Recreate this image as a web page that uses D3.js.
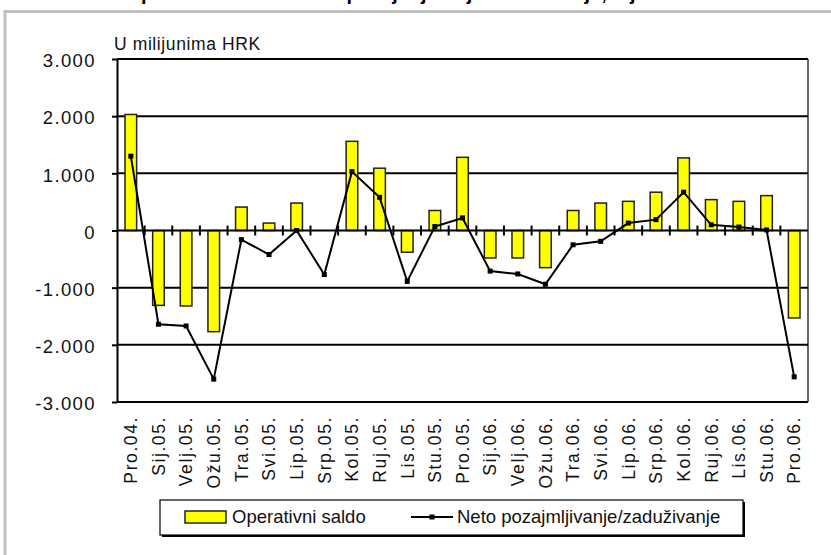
<!DOCTYPE html>
<html>
<head>
<meta charset="utf-8">
<script src="https://cdn.jsdelivr.net/npm/d3@7"></script>
<style>
  body { margin: 0; background: #fff; }
  svg { display: block; font-family: "Liberation Sans", Arial, sans-serif; }
</style>
</head>
<body>
<svg id="chart"></svg>
<script>
// monthly data, millions of HRK
const months = ["Pro.04.", "Sij.05.", "Velj.05.", "Ožu.05.", "Tra.05.", "Svi.05.", "Lip.05.", "Srp.05.",
    "Kol.05.", "Ruj.05.", "Lis.05.", "Stu.05.", "Pro.05.", "Sij.06.", "Velj.06.", "Ožu.06.", "Tra.06.",
    "Svi.06.", "Lip.06.", "Srp.06.", "Kol.06.", "Ruj.06.", "Lis.06.", "Stu.06.", "Pro.06."];

const operativniSaldo = [2030, -1310, -1320, -1770, 410, 130, 480, 0, 1560, 1090, -380, 350, 1280,
    -480, -480, -650, 350, 480, 510, 670, 1270, 540, 510, 610, -1530];

const netoPozajmljivanje = [1300, -1640, -1670, -2600, -160, -420, 0, -770, 1030, 580, -890, 70, 220,
    -710, -760, -940, -250, -190, 130, 190, 670, 100, 60, 10, -2560];

const yTicks = [-3000, -2000, -1000, 0, 1000, 2000, 3000];
const unitLabel = "U milijunima HRK";
const titleText = "Operativni saldo i neto pozajmljivanje/zaduživanje, mjesečno";
const legendLabels = ["Operativni saldo", "Neto pozajmljivanje/zaduživanje"];

const width = 831;
const height = 555;
const plot = { left: 117, right: 808, top: 59, bottom: 402 };

const SVG = d3.select("#chart").attr("width", width).attr("height", height);

const hr = d3.formatLocale({ decimal: ",", thousands: ".", grouping: [3], currency: ["", ""], minus: "-" });
const fmt = hr.format(",.0f");

const x = d3.scaleBand()
    .domain(months)
    .range([plot.left, plot.right])
    .paddingInner(0.58)
    .paddingOuter(0.29);

const y = d3.scaleLinear()
    .domain([-3000, 3000])
    .range([plot.bottom, plot.top]);

const step = x.step();
const centre = m => x(m) + x.bandwidth() / 2;

// outer frame (cut from a bigger page)
SVG.append("text")
    .attr("x", 415)
    .attr("y", 0)
    .attr("text-anchor", "middle")
    .attr("font-size", 20)
    .attr("font-weight", "bold")
    .text(titleText);

SVG.append("rect").attr("x", 0).attr("y", 0).attr("width", width).attr("height", 10.5).attr("fill", "none");
SVG.append("line").attr("x1", 4).attr("x2", width).attr("y1", 11.5).attr("y2", 11.5)
    .attr("stroke", "#c0c0c0").attr("stroke-width", 3);
SVG.append("line").attr("x1", 5).attr("x2", 5).attr("y1", 10).attr("y2", height)
    .attr("stroke", "#c0c0c0").attr("stroke-width", 3);

// right border of plot area
SVG.append("line")
    .attr("x1", plot.right).attr("x2", plot.right)
    .attr("y1", plot.top).attr("y2", plot.bottom)
    .attr("stroke", "#333").attr("stroke-width", 1.5);

// gridlines
SVG.append("g")
    .selectAll("line")
    .data(yTicks.filter(d => d !== 0))
    .enter()
    .append("line")
    .attr("x1", plot.left)
    .attr("x2", plot.right)
    .attr("y1", d => y(d))
    .attr("y2", d => y(d))
    .attr("stroke", "#000")
    .attr("stroke-width", 2);

// y axis
const yAxis = SVG.append("g")
    .attr("transform", `translate(${plot.left},0)`)
    .call(d3.axisLeft(y).tickValues(yTicks).tickSize(5).tickSizeOuter(0).tickPadding(16).tickFormat(fmt));

yAxis.select(".domain").attr("stroke", "#000").attr("stroke-width", 2);
yAxis.selectAll(".tick line").attr("stroke", "#000").attr("stroke-width", 2);
yAxis.selectAll(".tick text")
    .attr("font-family", "'Liberation Sans', Arial, sans-serif")
    .attr("font-size", 18.5)
    .attr("letter-spacing", 1.4)
    .attr("fill", "#111")
    .attr("dy", "0.42em");

SVG.append("text")
    .attr("x", 114)
    .attr("y", 50)
    .attr("font-size", 17.5)
    .attr("letter-spacing", 0.6)
    .attr("fill", "#111")
    .text(unitLabel);

// bars
SVG.append("g")
    .selectAll("rect")
    .data(months.map((m, i) => ({ m, v: operativniSaldo[i] })))
    .enter()
    .append("rect")
    .attr("x", d => x(d.m))
    .attr("width", x.bandwidth())
    .attr("y", d => y(Math.max(0, d.v)))
    .attr("height", d => Math.abs(y(d.v) - y(0)))
    .attr("fill", "#ffff00")
    .attr("stroke", "#222")
    .attr("stroke-width", 1.5);

// zero axis with crossing ticks at category edges
SVG.append("line")
    .attr("x1", plot.left).attr("x2", plot.right)
    .attr("y1", y(0)).attr("y2", y(0))
    .attr("stroke", "#000").attr("stroke-width", 2);

SVG.append("g")
    .selectAll("line")
    .data(months.slice(1))
    .enter()
    .append("line")
    .attr("x1", d => x(d) - step * x.paddingOuter())
    .attr("x2", d => x(d) - step * x.paddingOuter())
    .attr("y1", y(0) - 5)
    .attr("y2", y(0) + 5)
    .attr("stroke", "#000")
    .attr("stroke-width", 2);

// line series
const lineData = months.map((m, i) => ({ m, v: netoPozajmljivanje[i] }));

SVG.append("path")
    .datum(lineData)
    .attr("fill", "none")
    .attr("stroke", "#000")
    .attr("stroke-width", 2)
    .attr("d", d3.line().x(d => centre(d.m)).y(d => y(d.v)));

SVG.append("g")
    .selectAll("rect")
    .data(lineData)
    .enter()
    .append("rect")
    .attr("x", d => centre(d.m) - 2.5)
    .attr("y", d => y(d.v) - 2.5)
    .attr("width", 5)
    .attr("height", 5)
    .attr("fill", "#000");

// category labels
SVG.append("g")
    .selectAll("text")
    .data(months)
    .enter()
    .append("text")
    .attr("transform", d => `translate(${centre(d)},416) rotate(-90)`)
    .attr("text-anchor", "end")
    .attr("dy", "0.36em")
    .attr("font-size", 17.5)
    .attr("letter-spacing", 1.6)
    .attr("fill", "#111")
    .text(d => d);

// legend
const legend = SVG.append("g");

legend.append("rect")
    .attr("x", 162).attr("y", 502)
    .attr("width", 583).attr("height", 35)
    .attr("fill", "#000");
legend.append("rect")
    .attr("x", 160).attr("y", 500)
    .attr("width", 583).attr("height", 35)
    .attr("fill", "#fff")
    .attr("stroke", "#000")
    .attr("stroke-width", 1.2);

legend.append("rect")
    .attr("x", 185).attr("y", 511)
    .attr("width", 41).attr("height", 12)
    .attr("fill", "#ffff00")
    .attr("stroke", "#222")
    .attr("stroke-width", 1.5);

legend.append("text")
    .attr("x", 232).attr("y", 523)
    .attr("font-size", 18.5)
    .attr("fill", "#111")
    .text(legendLabels[0]);

legend.append("line")
    .attr("x1", 411).attr("x2", 453)
    .attr("y1", 517).attr("y2", 517)
    .attr("stroke", "#000").attr("stroke-width", 2);
legend.append("rect")
    .attr("x", 429.5).attr("y", 514.5)
    .attr("width", 5).attr("height", 5)
    .attr("fill", "#000");

legend.append("text")
    .attr("x", 457).attr("y", 523)
    .attr("font-size", 18.5)
    .attr("fill", "#111")
    .text(legendLabels[1]);
</script>
</body>
</html>
